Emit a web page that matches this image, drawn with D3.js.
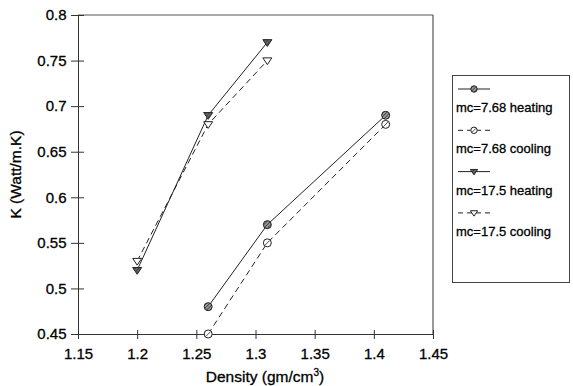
<!DOCTYPE html>
<html lang="en">
<head>
<meta charset="UTF-8">
<title>K vs Density</title>
<script src="https://cdnjs.cloudflare.com/ajax/libs/d3/7.8.5/d3.min.js"></script>
<style>
  body { margin: 0; background: #fff; }
  svg { display: block; }
  text { font-family: 'Liberation Sans', Arial, sans-serif; fill: #000; stroke: #000; stroke-width: 0.3px; }
</style>
</head>
<body>
<script>
  // data
  const xTicks = [1.15, 1.2, 1.25, 1.3, 1.35, 1.4, 1.45];
  const yTicks = [0.45, 0.5, 0.55, 0.6, 0.65, 0.7, 0.75, 0.8];
  const seriesNames = ["mc=7.68 heating", "mc=7.68 cooling", "mc=17.5 heating", "mc=17.5 cooling"];
  const density768 = [1.26, 1.31, 1.41];
  const density175 = [1.2, 1.26, 1.31];
  const k768Heating = [0.48, 0.57, 0.69];
  const k768Cooling = [0.45, 0.55, 0.68];
  const k175Heating = [0.52, 0.69, 0.77];
  const k175Cooling = [0.53, 0.68, 0.75];

  const series = [
    { name: seriesNames[0], xs: density768, ys: k768Heating, dash: null, shape: "circleFill" },
    { name: seriesNames[1], xs: density768, ys: k768Cooling, dash: "6,4", shape: "circleOpen" },
    { name: seriesNames[2], xs: density175, ys: k175Heating, dash: null, shape: "triFill" },
    { name: seriesNames[3], xs: density175, ys: k175Cooling, dash: "6,4", shape: "triOpen" }
  ];

  const W = 573, H = 386;
  const m = { left: 78, right: 433, top: 15, bottom: 334 };

  const svg = d3.select("body").append("svg")
    .attr("width", W).attr("height", H);

  // hatch pattern for filled markers
  const defs = svg.append("defs");
  defs.append("pattern")
    .attr("id", "hatch").attr("patternUnits", "userSpaceOnUse")
    .attr("width", 2.5).attr("height", 2.5)
    .attr("patternTransform", "rotate(45)")
    .call(p => {
      p.append("rect").attr("width", 2.5).attr("height", 2.5).attr("fill", "#999");
      p.append("line").attr("x1", 0).attr("y1", 0).attr("x2", 0).attr("y2", 2.5)
        .attr("stroke", "#222").attr("stroke-width", 1.2);
    });

  const x = d3.scaleLinear().domain([1.15, 1.45]).range([m.left, m.right]);
  const y = d3.scaleLinear().domain([0.45, 0.8]).range([m.bottom, m.top]);

  // frame (top and right borders)
  svg.append("line").attr("x1", m.left).attr("x2", m.right).attr("y1", m.top).attr("y2", m.top)
    .attr("stroke", "#555").attr("stroke-width", 1);
  svg.append("line").attr("x1", m.right).attr("x2", m.right).attr("y1", m.top).attr("y2", m.bottom)
    .attr("stroke", "#333").attr("stroke-width", 1);

  // axes
  const xAxis = svg.append("g").attr("transform", `translate(0,${m.bottom})`)
    .call(d3.axisBottom(x).tickValues(xTicks).tickFormat(d3.format("")).tickSize(5).tickSizeOuter(0));
  const yAxis = svg.append("g").attr("transform", `translate(${m.left},0)`)
    .call(d3.axisLeft(y).tickValues(yTicks).tickFormat(d3.format("")).tickSize(7).tickSizeOuter(0));

  [xAxis, yAxis].forEach(g => {
    g.attr("font-size", null).attr("font-family", null);
    g.select(".domain").attr("stroke", "#333");
    g.selectAll(".tick line").attr("stroke", "#333");
    g.selectAll(".tick text").style("font-size", "15px").attr("fill", "#000");
  });
  // ticks also reach inside the plot
  xAxis.selectAll(".tick line").attr("y1", -4);
  yAxis.selectAll(".tick line").attr("x1", 6);
  xAxis.selectAll(".tick text").attr("dy", "1.15em");
  yAxis.selectAll(".tick text").attr("dx", "-0.1em");

  function drawMarker(g, shape, cx, cy, k = 1) {
    if (shape.startsWith("circle")) {
      const r = 4 * k;
      g.append("circle").attr("cx", cx).attr("cy", cy).attr("r", r)
        .attr("fill", shape === "circleFill" ? "url(#hatch)" : "#fff")
        .attr("stroke", "#222").attr("stroke-width", 1);
      if (shape === "circleOpen") {
        g.append("line").attr("x1", cx - r * 0.6).attr("y1", cy + r * 0.6).attr("x2", cx + r * 0.6).attr("y2", cy - r * 0.6)
          .attr("stroke", "#222").attr("stroke-width", 0.8);
      }
    } else {
      const s = 4.5 * k;
      const pts = [[cx - s, cy - s * 0.6], [cx + s, cy - s * 0.6], [cx, cy + s * 0.9]];
      g.append("path").attr("d", d3.line()(pts) + "Z")
        .attr("fill", shape === "triFill" ? "url(#hatch)" : "#fff")
        .attr("stroke", "#222").attr("stroke-width", 1);
      if (shape === "triFill") {
        g.append("path").attr("d", d3.line()(pts) + "Z")
          .attr("fill", "#333").attr("fill-opacity", 0.5).attr("stroke", "none");
      }
    }
  }

  const line = d3.line().x(d => x(d[0])).y(d => y(d[1]));

  series.forEach(s => {
    const pts = s.xs.map((v, i) => [v, s.ys[i]]);
    svg.append("path").attr("d", line(pts)).attr("fill", "none")
      .attr("stroke", "#222").attr("stroke-width", 1)
      .attr("stroke-dasharray", s.dash);
  });
  series.forEach(s => {
    const g = svg.append("g");
    s.xs.forEach((v, i) => drawMarker(g, s.shape, x(v), y(s.ys[i])));
  });

  // axis titles
  const xt = svg.append("text").attr("x", 265).attr("y", 382)
    .attr("text-anchor", "middle").style("font-size", "15.5px");
  xt.append("tspan").text("Density (gm/cm");
  xt.append("tspan").attr("dy", -6).style("font-size", "10px").text("3");
  xt.append("tspan").attr("dy", 6).text(")");

  svg.append("text").attr("transform", `translate(21,${(m.top + m.bottom) / 2}) rotate(-90)`)
    .attr("text-anchor", "middle").style("font-size", "15.5px")
    .text("K (Watt/m.K)");

  // legend
  const leg = svg.append("g");
  leg.append("rect").attr("x", 452.5).attr("y", 75.5).attr("width", 117).attr("height", 207)
    .attr("fill", "#fff").attr("stroke", "#444").attr("stroke-width", 1);
  series.forEach((s, i) => {
    const ly = 89 + i * 41.3;
    leg.append("line").attr("x1", 458).attr("x2", 490).attr("y1", ly).attr("y2", ly)
      .attr("stroke", "#222").attr("stroke-width", 1).attr("stroke-dasharray", s.dash ? "5,4" : null);
    drawMarker(leg, s.shape, 474, ly, 0.8);
    leg.append("text").attr("x", 456).attr("y", ly + 23).style("font-size", "13px").text(s.name);
  });
</script>
</body>
</html>
